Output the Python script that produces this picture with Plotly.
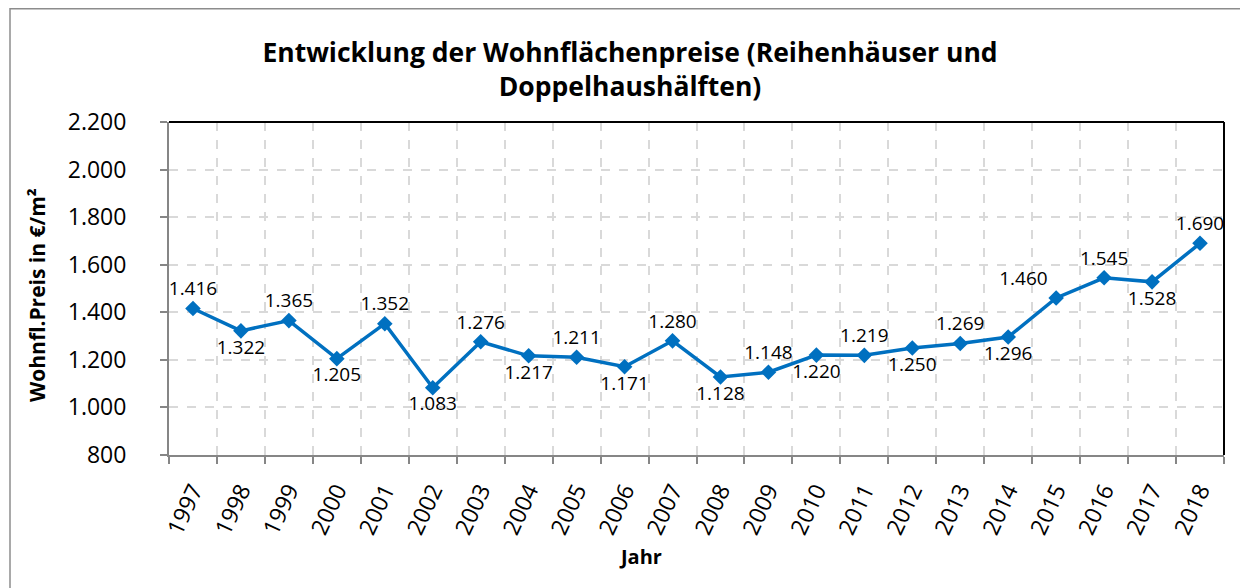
import plotly.graph_objects as go

years = [str(y) for y in range(1997, 2019)]
prices = [1416, 1322, 1365, 1205, 1352, 1083, 1276, 1217, 1211, 1171, 1280,
          1128, 1148, 1220, 1219, 1250, 1269, 1296, 1460, 1545, 1528, 1690]
label_pos = ["top center", "bottom center", "top center", "bottom center", "top center",
             "bottom center", "top center", "bottom center", "top center", "bottom center",
             "top center", "bottom center", "top center", "bottom center", "top center",
             "bottom center", "top center", "bottom center", "top left", "top center",
             "bottom center", "top center"]
y_ticks = [800, 1000, 1200, 1400, 1600, 1800, 2000, 2200]

def de_fmt(v):
    return f"{v:,}".replace(",", ".")

blue = "#0070C0"
font = "Open Sans"

# page body has an 8px margin; figure coordinates are page coordinates minus 8
OFF = 8
W, H = 1240, 580
L, T = 169 - OFF, 122 - OFF
R = W - (1224 - OFF)
B = H - (455 - OFF)
pw, ph = W - L - R, H - T - B

def px(xpix):
    return (xpix - L) / pw

def py(ypix):
    return 1 - (ypix - T) / ph

fig = go.Figure()
fig.add_trace(go.Scatter(
    x=years, y=prices, mode="lines+markers+text",
    line=dict(color=blue, width=3.5),
    marker=dict(symbol="diamond", size=12, color=blue),
    text=[de_fmt(v) for v in prices], textposition=label_pos,
    textfont=dict(family=font, size=19, color="#000000"),
    cliponaxis=False, hoverinfo="skip", showlegend=False,
))

fig.update_layout(
    width=W, height=H,
    margin=dict(l=L, r=R, t=T, b=B, autoexpand=False),
    paper_bgcolor="white", plot_bgcolor="white",
    font=dict(family=font, color="#000000"),
    title=dict(
        text="<b>Entwicklung der Wohnflächenpreise (Reihenhäuser und<br>Doppelhaushälften)</b>",
        x=(630 - OFF) / W, xanchor="center", y=1 - (62 - OFF) / H, yanchor="middle",
        font=dict(family=font, size=26.5, color="#000000"),
    ),
    xaxis=dict(
        type="category", tickson="boundaries", range=[-0.5, 21.5],
        tickangle=-65, tickfont=dict(family=font, size=23, color="#000000"),
        ticklabelstandoff=11,
        showline=True, linecolor="#868686", linewidth=2,
        ticks="outside", ticklen=7, tickcolor="#868686", tickwidth=2,
        showgrid=True, gridcolor="#D9D9D9", griddash="dash", gridwidth=1.5,
        zeroline=False,
    ),
    yaxis=dict(
        range=[800, 2200], tickvals=y_ticks, ticktext=[de_fmt(v) for v in y_ticks],
        tickfont=dict(family=font, size=23, color="#000000"),
        ticklabelstandoff=29,
        showline=True, linecolor="#868686", linewidth=2,
        ticks="outside", ticklen=7, tickcolor="#868686", tickwidth=2,
        showgrid=True, gridcolor="#D9D9D9", griddash="dash", gridwidth=1.5,
        zeroline=False,
    ),
    annotations=[
        dict(text="<b>Wohnfl.Preis in €/m²</b>", xref="paper", yref="paper",
             x=px(37 - OFF), y=py(295 - OFF), xanchor="center", yanchor="middle",
             textangle=-90, showarrow=False,
             font=dict(family=font, size=21, color="#000000")),
        dict(text="<b>Jahr</b>", xref="paper", yref="paper",
             x=px(640 - OFF), y=py(556 - OFF), xanchor="center", yanchor="middle",
             showarrow=False, font=dict(family=font, size=20, color="#000000")),
    ],
)

# Top and right plot-area borders (black)
fig.add_shape(type="line", xref="paper", yref="paper", x0=0, x1=1, y0=1, y1=1,
              line=dict(color="#000000", width=2))
fig.add_shape(type="line", xref="paper", yref="paper", x0=1, x1=1, y0=0, y1=1,
              line=dict(color="#000000", width=2))

# Outer chart frame
fig.add_shape(type="line", xref="paper", yref="paper",
              x0=px(10 - OFF), x1=px(10 - OFF), y0=py(8 - OFF), y1=py(H + 5),
              line=dict(color="#8C8C8C", width=1.5))
fig.add_shape(type="line", xref="paper", yref="paper",
              x0=px(10 - OFF), x1=px(W + 5), y0=py(8 - OFF + 0.75), y1=py(8 - OFF + 0.75),
              line=dict(color="#8C8C8C", width=1.5))

fig.write_html("out.html")
